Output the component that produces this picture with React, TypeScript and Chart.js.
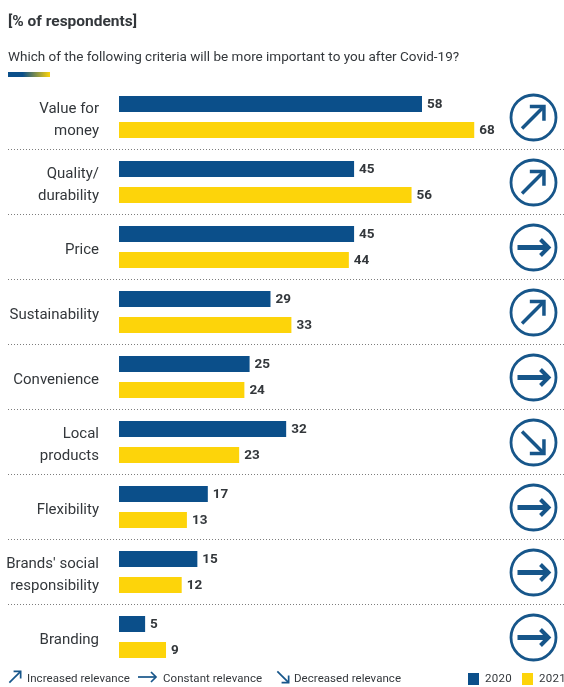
import React, { useEffect, useRef } from "react";
import { Chart, registerables } from "chart.js";

Chart.register(...registerables);

const categories = [
  ["Value for", "money"],
  ["Quality/", "durability"],
  "Price",
  "Sustainability",
  "Convenience",
  ["Local", "products"],
  "Flexibility",
  ["Brands' social", "responsibility"],
  "Branding",
];
const values2020 = [58, 45, 45, 29, 25, 32, 17, 15, 5];
const values2021 = [68, 56, 44, 33, 24, 23, 13, 12, 9];
const relevanceTrend = ["up", "up", "flat", "up", "flat", "down", "flat", "flat", "flat"];

const heading = "[% of respondents]";
const question = "Which of the following criteria will be more important to you after Covid-19?";
const trendLegend = [
  { trend: "up", label: "Increased relevance" },
  { trend: "flat", label: "Constant relevance" },
  { trend: "down", label: "Decreased relevance" },
];

const BLUE = "#0b4f8a";
const YELLOW = "#fdd40a";
const INK = "#33373b";
const ICON = "#17568a";
const FONT = "Roboto, sans-serif";

type Ctx = CanvasRenderingContext2D;

// Draws an open-headed arrow centred on (cx, cy), rotated to suit the trend.
function drawArrow(ctx: Ctx, cx: number, cy: number, half: number, head: number, shaft: number, tip: number, trend: string) {
  const angle = trend === "up" ? -Math.PI / 4 : trend === "down" ? Math.PI / 4 : 0;
  ctx.save();
  ctx.translate(cx, cy);
  ctx.rotate(angle);
  ctx.strokeStyle = ICON;
  ctx.lineJoin = "miter";
  ctx.lineWidth = shaft;
  ctx.beginPath();
  ctx.moveTo(-half, 0);
  ctx.lineTo(half, 0);
  ctx.stroke();
  ctx.lineWidth = tip;
  ctx.beginPath();
  ctx.moveTo(half - head, -head);
  ctx.lineTo(half, 0);
  ctx.lineTo(half - head, head);
  ctx.stroke();
  ctx.restore();
}

function drawText(ctx: Ctx, text: string, x: number, y: number, font: string, color: string, spacing = "0px") {
  ctx.font = font;
  ctx.fillStyle = color;
  ctx.textAlign = "left";
  ctx.textBaseline = "middle";
  (ctx as any).letterSpacing = spacing;
  ctx.fillText(text, x, y);
  (ctx as any).letterSpacing = "0px";
}

const decorations = {
  id: "decorations",
  afterDatasetsDraw(chart: any) {
    const ctx: Ctx = chart.ctx;
    const yScale = chart.scales.y;
    const width = chart.width;

    drawText(ctx, heading, 8, 22, `700 15.5px ${FONT}`, INK);
    drawText(ctx, question, 8, 58, `400 13.5px ${FONT}`, INK);

    const rule = ctx.createLinearGradient(8, 0, 50, 0);
    rule.addColorStop(0, BLUE);
    rule.addColorStop(0.35, BLUE);
    rule.addColorStop(1, YELLOW);
    ctx.fillStyle = rule;
    ctx.fillRect(8, 72, 42, 5);

    // Dotted separators between the categories
    ctx.save();
    ctx.strokeStyle = "#7d7d7d";
    ctx.lineWidth = 1;
    ctx.setLineDash([1, 2]);
    categories.slice(1).forEach((_, i) => {
      const y = Math.floor((yScale.getPixelForTick(i) + yScale.getPixelForTick(i + 1)) / 2) + 0.5;
      ctx.beginPath();
      ctx.moveTo(8, y);
      ctx.lineTo(width, y);
      ctx.stroke();
    });
    ctx.restore();

    // Values at the bar ends
    chart.data.datasets.forEach((dataset: any, d: number) => {
      chart.getDatasetMeta(d).data.forEach((bar: any, i: number) => {
        drawText(ctx, String(dataset.data[i]), bar.x + 5, bar.y + 1, `700 13.5px ${FONT}`, INK);
      });
    });

    // Trend badges on the right
    relevanceTrend.forEach((trend, i) => {
      const cy = yScale.getPixelForTick(i) + 0.5;
      ctx.strokeStyle = ICON;
      ctx.lineWidth = 2.8;
      ctx.beginPath();
      ctx.arc(533.5, cy, 22.5, 0, Math.PI * 2);
      ctx.stroke();
      if (trend === "flat") drawArrow(ctx, 533, cy, 15.5, 8, 5, 4, trend);
      else drawArrow(ctx, 533, cy, 15.5, 10, 3.5, 3.5, trend);
    });

    // Key along the bottom edge
    const keyY = 679;
    const keyFont = `400 11.5px ${FONT}`;
    const arrowX = [15, 147, 283];
    const labelX = [27, 163, 294];
    trendLegend.forEach((item, i) => {
      drawArrow(ctx, arrowX[i], keyY - 2, item.trend === "flat" ? 9 : 8, 5, 1.7, 1.7, item.trend);
      drawText(ctx, item.label, labelX[i], keyY, keyFont, INK, "0.05px");
    });
    chart.data.datasets.forEach((dataset: any, d: number) => {
      const x = d === 0 ? 468 : 522;
      ctx.fillStyle = dataset.backgroundColor;
      ctx.fillRect(x, 673, 11, 12);
      drawText(ctx, dataset.label, x + 17, keyY, keyFont, INK, "0.3px");
    });
  },
};

export default function App() {
  const canvasRef = useRef<HTMLCanvasElement>(null);

  useEffect(() => {
    const chart = new Chart(canvasRef.current!, {
      type: "bar",
      data: {
        labels: categories as any,
        datasets: [
          { label: "2020", data: values2020, backgroundColor: BLUE, barPercentage: 0.62, categoryPercentage: 0.8 },
          { label: "2021", data: values2021, backgroundColor: YELLOW, barPercentage: 0.62, categoryPercentage: 0.8 },
        ],
      },
      options: {
        indexAxis: "y",
        animation: false,
        responsive: false,
        layout: { padding: { left: 0, top: 84.5, right: 2, bottom: 17.5 } },
        plugins: { legend: { display: false }, tooltip: { enabled: false }, title: { display: false } },
        scales: {
          x: { display: false, min: 0, max: 84.8 },
          y: {
            grid: { display: false },
            border: { display: false },
            afterFit(scale: any) {
              // Fixed label gutter; the tall labels must not eat into the plot height
              scale.width = 119;
              scale.paddingTop = 0;
              scale.paddingBottom = 0;
            },
            ticks: {
              color: INK,
              padding: 12,
              labelOffset: 3,
              autoSkip: false,
              font: { family: FONT, size: 15, lineHeight: 1.47 },
            },
          },
        },
      },
      plugins: [decorations],
    } as any);
    return () => chart.destroy();
  }, []);

  return (
    <div style={{ position: "fixed", left: 0, top: 0, width: 564, height: 687, background: "#fff" }}>
      <canvas ref={canvasRef} width={564} height={687} style={{ display: "block" }} />
    </div>
  );
}
